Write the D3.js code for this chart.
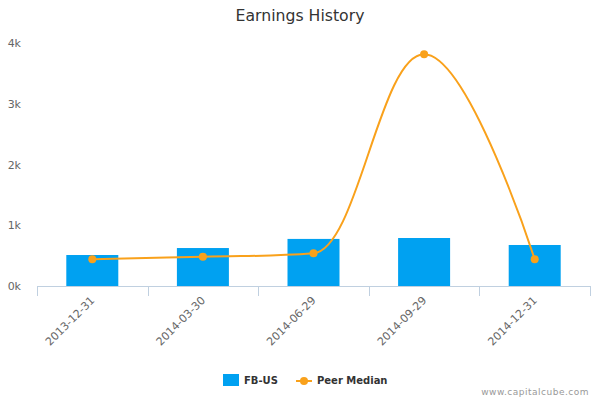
<!DOCTYPE html>
<html><head><meta charset="utf-8">
<script src="https://cdn.jsdelivr.net/npm/d3@7"></script>
<style>body{margin:0;background:#fff}svg{display:block;font-family:"DejaVu Sans",Verdana,sans-serif}</style>
</head><body><svg id="c" width="600" height="400"></svg>
<script>
const categories = ["2013-12-31","2014-03-30","2014-06-29","2014-09-29","2014-12-31"];
const fbValues = [510, 625, 775, 790, 675];
const peerValues = [440, 482, 538, 3814, 440];
const yTicks = [0, 1000, 2000, 3000, 4000];
const yTickLabels = ["0k","1k","2k","3k","4k"];

const svg = d3.select("#c");
const L = 37, R = 590, T = 43, B = 286;
const x = d3.scaleBand().domain(categories).range([L, R]).paddingInner(0).paddingOuter(0);
const y = d3.scaleLinear().domain([0, 4000]).range([B, T]);
const blue = "#00a1f1", orange = "#f9a11b";

svg.append("text").attr("x", 300).attr("y", 21).attr("text-anchor", "middle")
  .attr("font-size", 15.7).attr("fill", "#333").text("Earnings History");

// y labels
svg.append("g").selectAll("text").data(yTicks).join("text")
  .attr("x", 21).attr("y", d => y(d) + 4).attr("text-anchor", "end")
  .attr("font-size", 11).attr("fill", "#666").text((d, i) => yTickLabels[i]);

// bars
const bw = 52;
svg.append("g").selectAll("rect").data(fbValues).join("rect")
  .attr("x", (d, i) => x(categories[i]) + x.bandwidth() / 2 - bw / 2)
  .attr("width", bw).attr("y", d => y(d)).attr("height", d => y(0) - y(d)).attr("fill", blue);

// x axis
const ax = svg.append("g");
ax.append("line").attr("x1", L).attr("x2", R).attr("y1", B + 0.5).attr("y2", B + 0.5).attr("stroke", "#c0d0e0");
const tickXs = categories.map(c => x(c)).concat([R]);
ax.selectAll("line.t").data(tickXs).join("line").attr("class", "t")
  .attr("x1", d => Math.round(d) + 0.5).attr("x2", d => Math.round(d) + 0.5)
  .attr("y1", B).attr("y2", B + 10).attr("stroke", "#c0d0e0");
ax.selectAll("text").data(categories).join("text")
  .attr("transform", d => `translate(${x(d) + x.bandwidth() / 2 + 3},${B + 15}) rotate(-45)`)
  .attr("text-anchor", "end").attr("font-size", 11).attr("fill", "#666").text(d => d);

// Highcharts-style spline
const pts = peerValues.map((v, i) => [x(categories[i]) + x.bandwidth() / 2, y(v)]);
function splinePath(p) {
  const sm = 1.5, den = sm + 1;
  const cont = p.map((pt, i) => {
    if (i === 0 || i === p.length - 1) return null;
    const [lx, ly] = p[i - 1], [nx, ny] = p[i + 1], [px, py] = pt;
    let lcx = (sm * px + lx) / den, lcy = (sm * py + ly) / den;
    let rcx = (sm * px + nx) / den, rcy = (sm * py + ny) / den;
    let corr = 0;
    if (rcx !== lcx) corr = ((rcy - lcy) * (rcx - px)) / (rcx - lcx) + py - rcy;
    lcy += corr; rcy += corr;
    if (lcy > ly && lcy > py) { lcy = Math.max(ly, py); rcy = 2 * py - lcy; }
    else if (lcy < ly && lcy < py) { lcy = Math.min(ly, py); rcy = 2 * py - lcy; }
    if (rcy > ny && rcy > py) { rcy = Math.max(ny, py); lcy = 2 * py - rcy; }
    else if (rcy < ny && rcy < py) { rcy = Math.min(ny, py); lcy = 2 * py - rcy; }
    return { lcx, lcy, rcx, rcy };
  });
  let d = `M${p[0][0]},${p[0][1]}`;
  for (let i = 1; i < p.length; i++) {
    const prev = cont[i - 1] ? [cont[i - 1].rcx, cont[i - 1].rcy] : p[i - 1];
    const cur = cont[i] ? [cont[i].lcx, cont[i].lcy] : p[i];
    d += `C${prev[0]},${prev[1]} ${cur[0]},${cur[1]} ${p[i][0]},${p[i][1]}`;
  }
  return d;
}
svg.append("path").attr("d", splinePath(pts)).attr("fill", "none").attr("stroke", orange).attr("stroke-width", 2);
svg.append("g").selectAll("circle").data(pts).join("circle")
  .attr("cx", d => d[0]).attr("cy", d => d[1]).attr("r", 4).attr("fill", orange);

// legend
const lg = svg.append("g");
lg.append("rect").attr("x", 223).attr("y", 374).attr("width", 16).attr("height", 12).attr("fill", blue);
lg.append("text").attr("x", 244).attr("y", 384).attr("font-size", 10).attr("font-weight", "bold").attr("fill", "#333").text("FB-US");
lg.append("line").attr("x1", 296).attr("x2", 312).attr("y1", 381).attr("y2", 381).attr("stroke", orange).attr("stroke-width", 2);
lg.append("circle").attr("cx", 304).attr("cy", 381).attr("r", 4).attr("fill", orange);
lg.append("text").attr("x", 317).attr("y", 384).attr("font-size", 10).attr("font-weight", "bold").attr("fill", "#333").text("Peer Median");

svg.append("text").attr("x", 589).attr("y", 395).attr("text-anchor", "end").attr("font-size", 9)
  .attr("fill", "#999").attr("letter-spacing", 0.5).text("www.capitalcube.com");
</script></body></html>
